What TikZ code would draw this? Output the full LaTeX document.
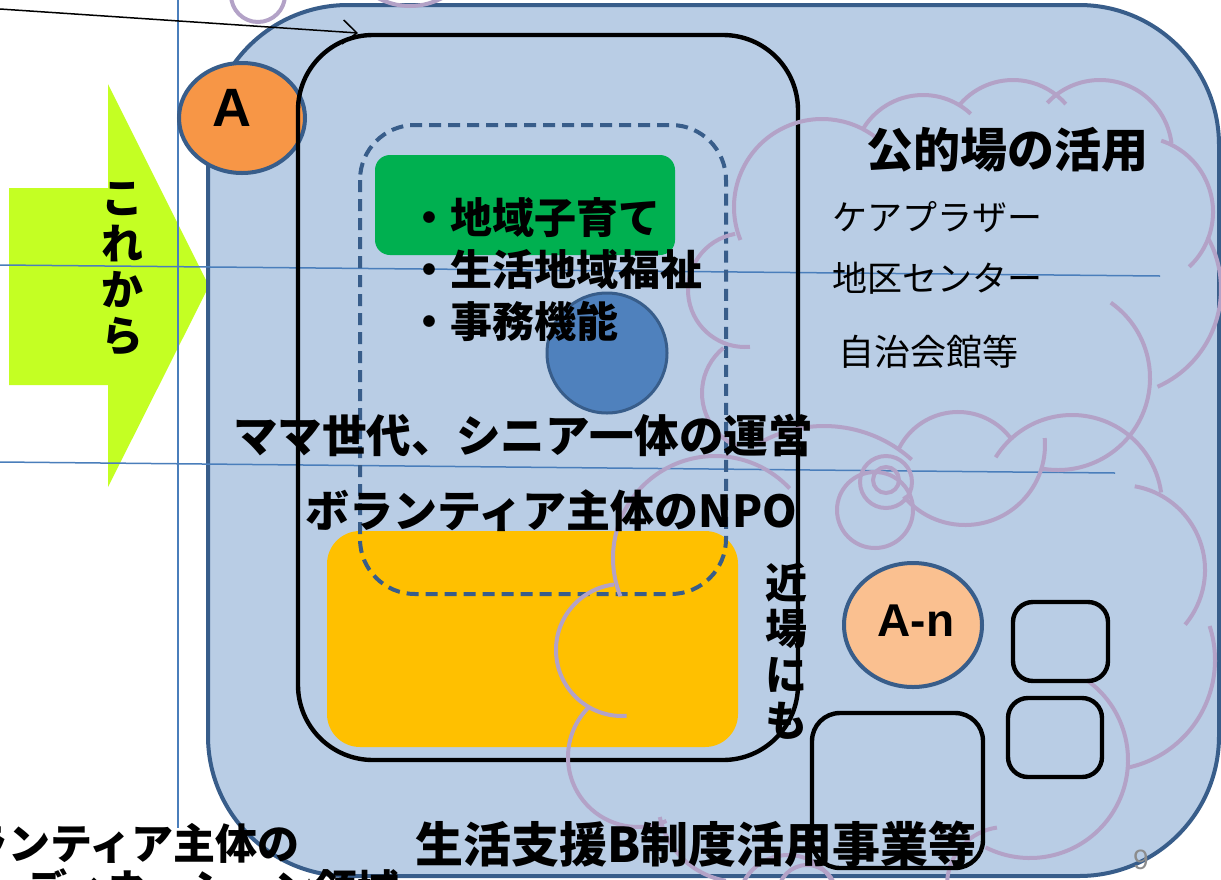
\documentclass[tikz,border=0pt]{standalone}
\usepackage{fontspec}
\setmainfont{Noto Sans CJK JP}
\newfontfamily\arialf{Liberation Sans}
\usetikzlibrary{arrows.meta}
\definecolor{bgblue}{RGB}{185,205,229}
\definecolor{navy}{RGB}{56,93,138}
\definecolor{limeg}{RGB}{196,255,35}
\definecolor{grn}{RGB}{0,176,80}
\definecolor{gold}{RGB}{255,192,0}
\definecolor{midblue}{RGB}{79,129,189}
\definecolor{orng}{RGB}{247,150,70}
\definecolor{peach}{RGB}{250,192,144}
\definecolor{lav}{RGB}{179,162,199}
\definecolor{guide}{RGB}{74,126,187}
\definecolor{pgnum}{RGB}{140,140,140}
\newcommand\fsz[2]{\fontsize{#1}{#2}\selectfont}
\newcommand\carc[5]{\draw[cloudline] (#1,#2) ++(#4:#3) arc[start angle=#4,end angle=#5,radius=#3];}
\begin{document}
\begin{tikzpicture}[x=0.5pt,y=-0.5pt,
  cloudline/.style={draw=lav,line width=2pt},
  guideline/.style={draw=guide,line width=0.75pt},
  boxline/.style={draw=black,line width=2.2pt},
  jtxt/.style={inner sep=0pt,text=black},
  every node/.style={inner sep=0pt}]
\path[use as bounding box,fill=white] (0,0) rectangle (1221,879);
% lime block arrow
\fill[limeg] (9,188) -- (108,188) -- (108,84) -- (209,286) -- (108,487) -- (108,385) -- (9,385) -- cycle;
% big rounded area
\draw[navy,line width=2pt,fill=bgblue,rounded corners=70pt] (208,5) rectangle (1219,876);
% guide lines
\coordinate (g1a) at (0,265); \coordinate (g1b) at (1160,276);
\coordinate (g2a) at (0,462); \coordinate (g2b) at (1115,473);
\coordinate (g3a) at (178,0); \coordinate (g3b) at (178,828);
\draw[guideline] (g1a) -- (g1b);
\draw[guideline] (g2a) -- (g2b);
\draw[guideline] (g3a) -- (g3b);
% A ellipse
\draw[navy,line width=2pt,fill=orng] (242,118) ellipse[x radius=63,y radius=55];
% arrow line
\coordinate (arrtail) at (0,9); \coordinate (arrtip) at (358,33);
\draw[black,line width=0.75pt,-{Straight Barb[length=7pt,width=12pt]}] (arrtail) -- (arrtip);
% black main box
\draw[boxline,rounded corners=37.5pt] (298,35) rectangle (798,760);
% green box
\fill[grn,rounded corners=7.5pt] (375,155) rectangle (675,255);
% gold box
\fill[gold,rounded corners=16.5pt] (327,531) rectangle (738,747);
% blue circle
\draw[navy,line width=1.5pt,fill=midblue] (607,353) circle[radius=60];
% dashed box
\draw[navy,line width=2pt,dash pattern=on 6pt off 3.5pt,rounded corners=27.5pt] (360,125) rectangle (726,594);
% cloud arcs
\carc{822}{207}{88}{158}{311}
\carc{923}{165}{70}{212}{313}
\carc{1013}{150}{70}{221}{319}
\carc{1100}{152}{72}{223}{353}
\carc{1138}{212}{75}{288}{407}
\carc{1114}{289}{107}{-29}{66}
\carc{1058}{378}{92}{-55}{100}
\carc{1072}{505}{90}{212}{352}
\carc{958}{478}{66}{205}{325}
\carc{965}{445}{80}{140}{-5}
\carc{824}{557}{131}{238}{312}
\carc{745}{290}{57}{-100}{-275}
\carc{760}{393}{58}{231}{113}
\carc{715}{558}{102}{158}{317}
\carc{622}{650}{66}{263}{86}
\carc{638}{757}{70}{226}{66}
\carc{740}{800}{82}{168}{100}
\carc{1005}{885}{58}{185}{262}
\carc{1120}{570}{85}{-80}{40}
\carc{1105}{660}{110}{-18}{78}
\carc{1030}{760}{98}{-55}{117}
\draw[cloudline] (875,510) circle[radius=38];
\draw[cloudline] (886,482) circle[radius=26];
\draw[cloudline] (886,480) circle[radius=13];
\draw[cloudline] (788,905) circle[radius=50];
\draw[cloudline] (807,894) circle[radius=29];
\draw[cloudline] (258,-5) circle[radius=27];
\draw[cloudline] (410,-62) circle[radius=68];
% small boxes
\draw[boxline,rounded corners=10pt] (1013,602) rectangle (1108,681);
\draw[boxline,rounded corners=10pt] (1008,698) rectangle (1102,777);
\draw[boxline,rounded corners=14pt] (812,713) rectangle (983,868);
% A-n ellipse
\draw[navy,line width=2pt,fill=peach] (913,625) ellipse[x radius=69,y radius=62];
% texts
\node[jtxt,font=\arialf\bfseries\fsz{27}{27}] (tA) at (232,108) {A};
\node[jtxt,font=\arialf\bfseries\fsz{23}{23}] (tAn) at (916,621) {A-n};
\node[jtxt,align=center,font=\bfseries\fsz{21}{23}] (korekara) at (122,269) {こ\\れ\\か\\ら};
\node[jtxt,anchor=west,font=\bfseries\fsz{21}{21}] (li1) at (408,218) {・地域子育て};
\node[jtxt,anchor=west,font=\bfseries\fsz{21}{21}] (li2) at (408,270) {・生活地域福祉};
\node[jtxt,anchor=west,font=\bfseries\fsz{21}{21}] (li3) at (408,321) {・事務機能};
\node[jtxt,font=\bfseries\fsz{22.3}{22.3}] (mama) at (523,435) {ママ世代、シニア一体の運営};
\node[jtxt,anchor=west,font=\bfseries\fsz{22}{22}] (npo) at (305,511) {ボランティア主体のNPO};
\node[jtxt,align=center,font=\bfseries\fsz{21}{23}] (chikaba) at (786,651) {近\\場\\に\\も};
\node[jtxt,anchor=west,font=\bfseries\fsz{23.5}{23.5}] (kouteki) at (866,150) {公的場の活用};
\node[jtxt,anchor=west,font=\fsz{17.5}{17.5}] (care) at (832,217) {ケアプラザー};
\node[jtxt,anchor=west,font=\fsz{17.5}{17.5}] (chiku) at (832,278) {地区センター};
\node[jtxt,anchor=west,font=\fsz{18}{18}] (jichi) at (838,352) {自治会館等};
\node[jtxt,anchor=west,font=\bfseries\fsz{24}{24}] (seikatsu) at (415,844) {生活支援B制度活用事業等};
\node[jtxt,anchor=east,font=\bfseries\fsz{21}{21}] (vol) at (300,843) {ボランティア主体の};
\node[jtxt,anchor=east,font=\bfseries\fsz{21}{21}] (coord) at (400,889) {コーディネーション領域};
\node[jtxt,font=\arialf\fsz{14}{14},text=pgnum] (pg) at (1141,860) {9};
\end{tikzpicture}
\end{document}
